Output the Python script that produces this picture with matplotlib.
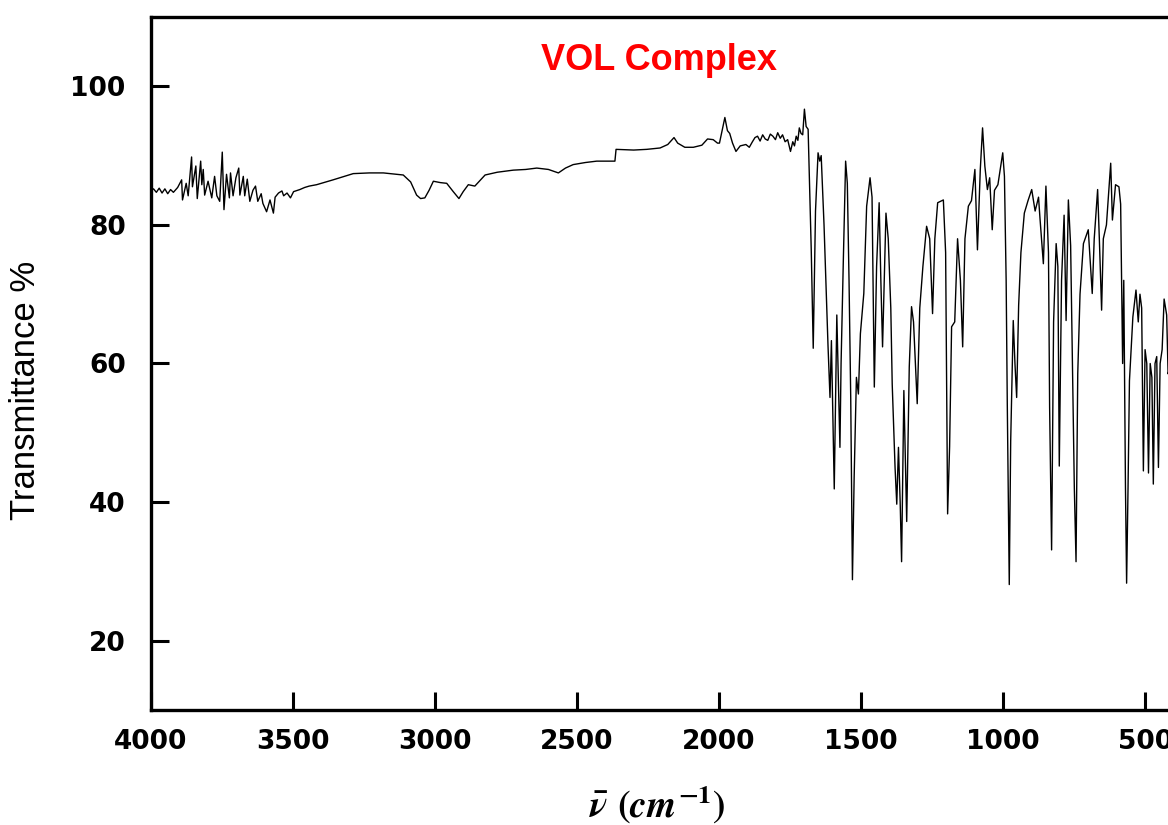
import matplotlib
matplotlib.use('Agg')
import matplotlib.pyplot as plt

# FT-IR spectrum (cm-1, %T)
wavenumber = [4000, 3990, 3980, 3970, 3960, 3950, 3940, 3930, 3920, 3905,
              3891, 3888, 3875, 3868, 3856, 3853, 3841, 3836, 3824, 3820,
              3815, 3810, 3798, 3785, 3775, 3767, 3757, 3748, 3742, 3733,
              3723, 3719, 3710, 3700, 3690, 3686, 3674, 3669, 3660, 3651,
              3640, 3631, 3623, 3611, 3605, 3592, 3580, 3568, 3562, 3550,
              3538, 3532, 3520, 3508, 3497, 3475, 3458, 3442, 3416, 3358,
              3287, 3230, 3181, 3134, 3111, 3085, 3064, 3050, 3035, 3020,
              3005, 2980, 2958, 2935, 2915, 2900, 2882, 2859, 2823, 2780,
              2724, 2680, 2641, 2600, 2565, 2540, 2513, 2470, 2430, 2366,
              2362, 2300, 2254, 2207, 2180, 2158, 2145, 2120, 2090, 2060,
              2040, 2020, 2005, 1998, 1979, 1970, 1962, 1952, 1940, 1925,
              1905, 1893, 1882, 1873, 1864, 1855, 1846, 1837, 1828, 1819,
              1810, 1801, 1793, 1784, 1776, 1767, 1758, 1748, 1740, 1734,
              1728, 1722, 1717, 1711, 1705, 1699, 1693, 1686, 1680, 1675,
              1668, 1664, 1660, 1651, 1645, 1640, 1636, 1630, 1622, 1616,
              1609, 1604, 1594, 1585, 1574, 1570, 1562, 1554, 1548, 1542,
              1536, 1530, 1524, 1516, 1509, 1502, 1490, 1480, 1468, 1461,
              1453, 1445, 1436, 1430, 1424, 1412, 1404, 1395, 1390, 1380,
              1374, 1368, 1362, 1357, 1349, 1339, 1330, 1322, 1315, 1302,
              1293, 1282, 1269, 1258, 1248, 1240, 1230, 1210, 1202, 1195,
              1188, 1181, 1170, 1160, 1150, 1142, 1134, 1122, 1111, 1099,
              1090, 1080, 1072, 1064, 1055, 1047, 1038, 1030, 1018, 1001,
              995, 989, 985, 978, 973, 964, 958, 952, 945, 937,
              925, 912, 899, 887, 875, 870, 858, 849, 840, 836,
              829, 822, 813, 807, 802, 794, 785, 778, 770, 762,
              755, 749, 743, 737, 729, 717, 700, 686, 679, 667,
              661, 653, 647, 636, 621, 615, 604, 592, 586, 579,
              575, 569, 565, 560, 555, 543, 532, 524, 518, 512,
              506, 500, 494, 488, 482, 476, 471, 465, 459, 453,
              447, 440, 433, 424, 419, 410]
transmittance = [85.0, 85.2, 84.7, 85.3, 84.6, 85.2, 84.5, 85.1, 84.7, 85.4,
                 86.5, 83.6, 86.0, 84.2, 89.8, 85.5, 88.5, 83.8, 89.2, 85.8,
                 88.0, 84.3, 86.3, 83.9, 87.0, 84.2, 83.4, 90.5, 82.2, 87.3,
                 83.9, 87.5, 84.2, 86.8, 88.2, 84.3, 87.0, 84.2, 86.6, 83.4,
                 85.0, 85.6, 83.4, 84.5, 83.1, 81.9, 83.6, 81.7, 84.0, 84.6,
                 84.9, 84.2, 84.6, 83.9, 84.8, 85.1, 85.4, 85.6, 85.8, 86.5,
                 87.4, 87.5, 87.5, 87.3, 87.2, 86.2, 84.3, 83.8, 83.9, 85.0,
                 86.3, 86.1, 86.0, 84.8, 83.8, 84.8, 85.8, 85.6, 87.2, 87.6,
                 87.9, 88.0, 88.2, 88.0, 87.5, 88.2, 88.7, 89.0, 89.2, 89.2,
                 90.9, 90.8, 90.9, 91.1, 91.6, 92.6, 91.8, 91.2, 91.2, 91.5,
                 92.4, 92.3, 91.8, 91.8, 95.5, 93.6, 93.2, 91.8, 90.6, 91.4,
                 91.6, 91.2, 92.0, 92.6, 92.8, 92.1, 93.0, 92.4, 92.2, 93.1,
                 92.8, 92.3, 93.3, 92.5, 93.0, 92.0, 92.3, 90.6, 92.0, 91.4,
                 92.8, 92.2, 94.0, 93.2, 93.0, 96.7, 94.2, 93.8, 84.0, 76.4,
                 62.2, 72.0, 82.0, 90.4, 89.2, 90.0, 86.0, 80.0, 70.0, 62.6,
                 55.1, 63.3, 41.9, 67.0, 47.9, 60.0, 75.0, 89.2, 86.0, 72.0,
                 55.0, 28.8, 43.5, 58.0, 55.6, 64.3, 70.1, 82.7, 86.8, 84.0,
                 56.6, 74.0, 83.2, 72.0, 62.4, 81.7, 78.0, 68.0, 57.0, 45.0,
                 39.7, 47.9, 40.0, 31.4, 56.1, 37.2, 59.5, 68.2, 66.0, 54.2,
                 68.0, 74.0, 79.8, 78.0, 67.2, 78.0, 83.2, 83.6, 76.0, 38.3,
                 48.0, 65.3, 66.0, 78.0, 72.0, 62.4, 78.0, 82.7, 83.5, 88.0,
                 76.4, 88.0, 94.0, 88.5, 85.1, 86.8, 79.3, 85.0, 85.8, 90.4,
                 87.0, 72.0, 54.2, 28.1, 48.8, 66.2, 60.0, 55.1, 68.4, 76.0,
                 81.7, 83.5, 85.1, 82.0, 84.0, 81.0, 74.4, 85.6, 76.0, 53.7,
                 33.1, 66.0, 77.3, 74.0, 45.2, 72.0, 81.4, 66.2, 83.6, 77.0,
                 58.0, 42.0, 31.4, 58.5, 70.0, 77.3, 79.3, 70.1, 78.0, 85.1,
                 78.0, 67.7, 78.0, 80.0, 88.9, 80.7, 85.8, 85.5, 83.0, 60.0,
                 72.0, 42.0, 28.3, 42.0, 57.5, 66.7, 70.6, 66.0, 70.0, 68.0,
                 44.5, 62.0, 60.0, 44.2, 60.0, 58.0, 42.6, 60.0, 61.0, 45.0,
                 60.0, 62.0, 69.3, 67.0, 58.5, 60.0]

xticks = [4000, 3500, 3000, 2500, 2000, 1500, 1000, 500]
yticks = [20, 40, 60, 80, 100]
title = 'VOL Complex'

plt.rcParams['mathtext.fontset'] = 'custom'
plt.rcParams['mathtext.it'] = 'STIXGeneral:italic:bold'
plt.rcParams['mathtext.rm'] = 'STIXGeneral:bold'
plt.rcParams['mathtext.bf'] = 'STIXGeneral:bold'

fig = plt.figure(figsize=(11.68, 8.25), dpi=100)
# axes run a little past the right edge, as in the cropped original
ax = fig.add_axes([0.129, 0.1394, 0.8757, 0.84])

ax.plot(wavenumber, transmittance, color='black', lw=1.0)

ax.set_xlim(4000, 400)
ax.set_ylim(10, 110)
ax.set_xticks(xticks)
ax.set_yticks(yticks)
ax.tick_params(direction='in', length=13, width=2.2, top=False, right=False)
ax.tick_params(axis='y', pad=18)
ax.tick_params(axis='x', pad=14)
for lab in ax.get_xticklabels() + ax.get_yticklabels():
    lab.set_fontfamily('DejaVu Sans')
    lab.set_fontweight('bold')
    lab.set_fontsize(19)
for sp in ax.spines.values():
    sp.set_linewidth(2.4)

ax.text(0.497, 0.937, title, transform=ax.transAxes, color='#ff0000',
        fontsize=26, fontweight='bold', family='Liberation Sans',
        ha='center', va='center')

fig.text(26 / 1168, 1 - 390 / 825, 'Transmittance %', rotation=90,
         fontsize=25, family='Liberation Sans', ha='center', va='center')
fig.text(657 / 1168, 1 - 805 / 825, r'$\bar{\nu}\ (cm^{-1})$',
         fontsize=27, ha='center', va='center')

fig.savefig('out.png', dpi=100)
